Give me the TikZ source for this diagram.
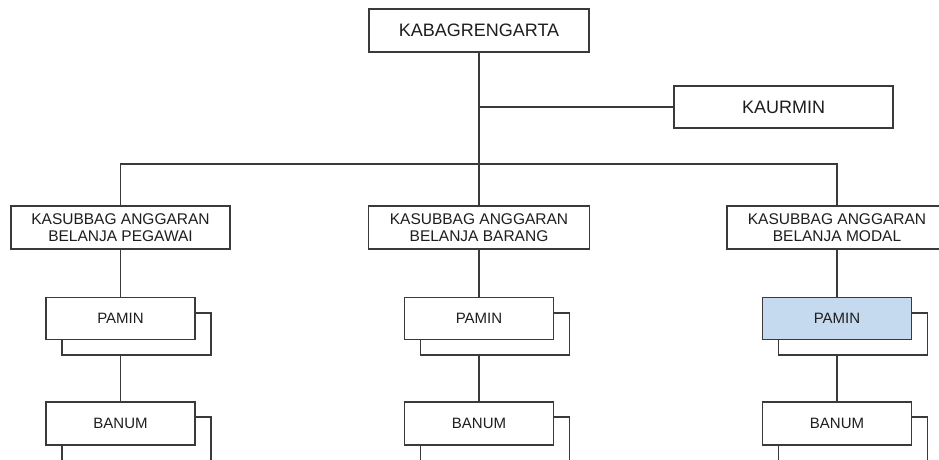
\documentclass[tikz,border=0pt]{standalone}
\usepackage{fontspec}
\setmainfont{Liberation Sans}
\definecolor{linec}{HTML}{3A3A3A}
\definecolor{textc}{HTML}{1E1E1E}
\definecolor{paminblue}{HTML}{C5D9EF}
\begin{document}
\begin{tikzpicture}[x=1pt,y=-1pt,
  box/.style={draw=linec, line width=1.1pt, fill=white, inner sep=0pt, text=textc, align=center},
  bigbox/.style={box, minimum width=220pt, minimum height=43pt, font=\fontsize{18}{20}\selectfont},
  subbox/.style={box, minimum width=220pt, minimum height=43pt, font=\fontsize{15.5}{17}\selectfont},
  smallbox/.style={box, minimum width=149pt, minimum height=42pt, font=\fontsize{15}{17}\selectfont},
  backbox/.style={draw=linec, line width=1.1pt, fill=white, inner sep=0pt, minimum width=149pt, minimum height=42pt},
  conn/.style={draw=linec, line width=1.1pt}]
\useasboundingbox (0,0) rectangle (939,459);

% top level
\node[bigbox] (top) at (479,30.5) {KABAGRENGARTA};
\node[bigbox, minimum width=219pt, minimum height=42pt] (kaurmin) at (783.5,107) {KAURMIN};

% second level
\node[subbox, minimum width=219pt] (kL) at (120.5,227.5) {KASUBBAG ANGGARAN\\BELANJA PEGAWAI};
\node[subbox, minimum width=221pt] (kM) at (479,227.5) {KASUBBAG ANGGARAN\\BELANJA BARANG};
\node[subbox] (kR) at (837,227.5) {KASUBBAG ANGGARAN\\BELANJA MODAL};

\coordinate (bus) at (479,164);

% connectors top
\draw[conn] (top.south) -- (kM.north);
\draw[conn] (kaurmin.west) -- (kaurmin.west -| top.south);
\draw[conn] (kL.north) |- (bus) -| (kR.north);

% PAMIN back boxes
\node[backbox] (pLb) at (136.5,334) {};
\node[backbox] (pMb) at (495,334) {};
\node[backbox] (pRb) at (853,334) {};
% BANUM back boxes
\node[backbox, minimum height=48pt] (bLb) at (136.5,441) {};
\node[backbox, minimum height=48pt] (bMb) at (495,441) {};
\node[backbox, minimum height=48pt] (bRb) at (853,441) {};

% PAMIN front
\node[smallbox] (pL) at (120.5,318.5) {PAMIN};
\node[smallbox] (pM) at (479,318.5) {PAMIN};
\node[smallbox, fill=paminblue] (pR) at (837,318.5) {PAMIN};

% BANUM front
\node[smallbox, minimum height=43pt] (bL) at (120.5,423.5) {BANUM};
\node[smallbox, minimum height=43pt] (bM) at (479,423.5) {BANUM};
\node[smallbox, minimum height=43pt] (bR) at (837,423.5) {BANUM};

% vertical connectors
\draw[conn] (kL.south) -- (pL.north);
\draw[conn] (kM.south) -- (pM.north);
\draw[conn] (kR.south) -- (pR.north);
\draw[conn] (pL.south |- pLb.south) -- (bL.north);
\draw[conn] (pM.south |- pMb.south) -- (bM.north);
\draw[conn] (pR.south |- pRb.south) -- (bR.north);
\end{tikzpicture}
\end{document}
